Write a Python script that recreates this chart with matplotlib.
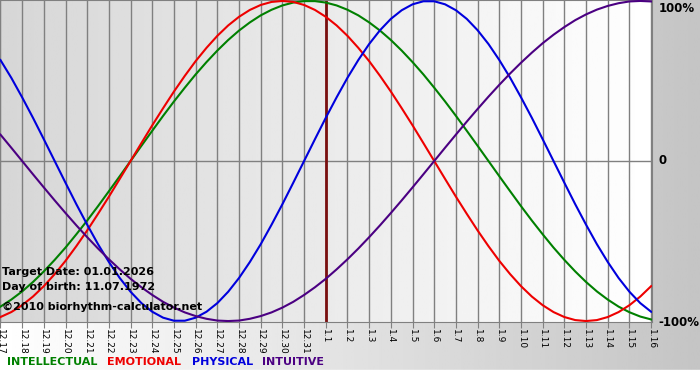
import numpy as np
import matplotlib
matplotlib.use("Agg")
import matplotlib.pyplot as plt

# dates shown along the bottom (12.17 .. 1.16)
dates = ['12.17', '12.18', '12.19', '12.20', '12.21', '12.22', '12.23', '12.24',
         '12.25', '12.26', '12.27', '12.28', '12.29', '12.30', '12.31',
         '1.1', '1.2', '1.3', '1.4', '1.5', '1.6', '1.7', '1.8', '1.9', '1.10',
         '1.11', '1.12', '1.13', '1.14', '1.15', '1.16']

# values every half day, 12.17 .. 1.16 (-1 .. 1)
intellectual = [-0.910, -0.866, -0.815, -0.756, -0.690, -0.618, -0.541, -0.458,
                -0.372, -0.282, -0.189, -0.095, 0.000, 0.095, 0.189, 0.282,
                0.372, 0.458, 0.541, 0.618, 0.690, 0.756, 0.815, 0.866,
                0.910, 0.945, 0.972, 0.990, 0.999, 0.999, 0.990, 0.972,
                0.945, 0.910, 0.866, 0.815, 0.756, 0.690, 0.618, 0.541,
                0.458, 0.372, 0.282, 0.189, 0.095, 0.000, -0.095, -0.189,
                -0.282, -0.372, -0.458, -0.541, -0.618, -0.690, -0.756, -0.815,
                -0.866, -0.910, -0.945, -0.972, -0.990]
emotional = [-0.975, -0.944, -0.901, -0.847, -0.782, -0.707, -0.624, -0.532,
             -0.434, -0.330, -0.223, -0.112, 0.000, 0.112, 0.223, 0.330,
             0.434, 0.532, 0.624, 0.707, 0.782, 0.847, 0.901, 0.944,
             0.975, 0.994, 1.000, 0.994, 0.975, 0.944, 0.901, 0.847,
             0.782, 0.707, 0.624, 0.532, 0.434, 0.330, 0.223, 0.112,
             0.000, -0.112, -0.223, -0.330, -0.434, -0.532, -0.624, -0.707,
             -0.782, -0.847, -0.901, -0.944, -0.975, -0.994, -1.000, -0.994,
             -0.975, -0.944, -0.901, -0.847, -0.782]
physical = [0.631, 0.520, 0.398, 0.270, 0.136, 0.000, -0.136, -0.270,
            -0.398, -0.520, -0.631, -0.731, -0.817, -0.888, -0.942, -0.979,
            -0.998, -0.998, -0.979, -0.942, -0.888, -0.817, -0.731, -0.631,
            -0.520, -0.398, -0.270, -0.136, 0.000, 0.136, 0.270, 0.398,
            0.520, 0.631, 0.731, 0.817, 0.888, 0.942, 0.979, 0.998,
            0.998, 0.979, 0.942, 0.888, 0.817, 0.731, 0.631, 0.520,
            0.398, 0.270, 0.136, 0.000, -0.136, -0.270, -0.398, -0.520,
            -0.631, -0.731, -0.817, -0.888, -0.942]
intuitive = [0.165, 0.083, 0.000, -0.083, -0.165, -0.246, -0.325, -0.402,
             -0.476, -0.547, -0.614, -0.677, -0.736, -0.789, -0.837, -0.880,
             -0.916, -0.946, -0.969, -0.986, -0.997, -1.000, -0.997, -0.986,
             -0.969, -0.946, -0.916, -0.880, -0.837, -0.789, -0.736, -0.677,
             -0.614, -0.547, -0.476, -0.402, -0.325, -0.246, -0.165, -0.083,
             0.000, 0.083, 0.165, 0.246, 0.325, 0.402, 0.476, 0.547,
             0.614, 0.677, 0.736, 0.789, 0.837, 0.880, 0.916, 0.946,
             0.969, 0.986, 0.997, 1.000, 0.997]
target_idx = 15  # 1.1

series = [("INTELLECTUAL", intellectual, "#008000"),
          ("EMOTIONAL", emotional, "#ee0000"),
          ("PHYSICAL", physical, "#0000dd"),
          ("INTUITIVE", intuitive, "#4b0082")]

W, H = 700, 380
fig = plt.figure(figsize=(W / 100, H / 100), dpi=100)

# outer background: white -> gray from left to right, white strip at the bottom
bg = fig.add_axes([0, 0, 1, 1], zorder=-10)
grad = np.linspace(1.0, 0.77, 256).reshape(1, -1)
bg.imshow(grad, cmap="gray", vmin=0, vmax=1, aspect="auto",
          extent=[0, W, 10, H])
bg.axhspan(0, 10, color="white")
bg.set_xlim(0, W)
bg.set_ylim(0, H)
bg.axis("off")

ax = fig.add_axes([0, (H - 322) / H, 652 / W, 322 / H])
x = np.arange(len(dates))
xh = np.arange(len(physical)) / 2  # half-day steps
ax.set_xlim(-0.02, 30.04)
ax.set_ylim(-1.006, 1.006)

# plot area background: gray -> white from left to right
inner = np.linspace(0.84, 1.0, 256).reshape(1, -1)
ax.imshow(inner, cmap="gray", vmin=0, vmax=1, aspect="auto",
          extent=[-0.02, 30.04, -1.006, 1.006], zorder=0)

for xi in x:
    ax.axvline(xi, color="#808080", lw=1, zorder=1)
ax.axhline(0, color="#808080", lw=1, zorder=1)
ax.axvline(target_idx, color="#7a1010", lw=2, zorder=2)

for name, vals, col in series:
    ax.plot(xh, vals, color=col, lw=1.5, zorder=3)

for s in ax.spines.values():
    s.set_color("#808080")

ax.set_xticks(x)
ax.set_xticklabels(dates, rotation=-90, fontsize=6.5, va="top", ha="center")
ax.tick_params(axis="x", length=4, color="#808080", pad=1)
ax.set_yticks([])

ax.text(1.01, 0.995, "100%", transform=ax.transAxes, fontsize=8.5,
        fontweight="bold", va="top", ha="left", clip_on=False)
ax.text(1.01, 0.5, "0", transform=ax.transAxes, fontsize=8.5,
        fontweight="bold", va="center", ha="left", clip_on=False)
ax.text(1.01, 0.0, "-100%", transform=ax.transAxes, fontsize=8.5,
        fontweight="bold", va="center", ha="left", clip_on=False)

info = ["Target Date: 01.01.2026", "Day of birth: 11.07.1972",
        "\u00a92010 biorhythm-calculator.net"]
for line, ypix in zip(info, [272, 287, 307]):
    fig.text(2 / W, 1 - ypix / H, line, fontsize=8, fontweight="bold",
             va="center", ha="left", zorder=5)

# legend line under the axis
legend_x = [7, 107, 192, 262]
for (name, vals, col), lx in zip(series, legend_x):
    fig.text(lx / W, 1 - 362 / H, name, fontsize=8, fontweight="bold",
             color=col, va="center", ha="left")

fig.savefig("out.png", dpi=100)
